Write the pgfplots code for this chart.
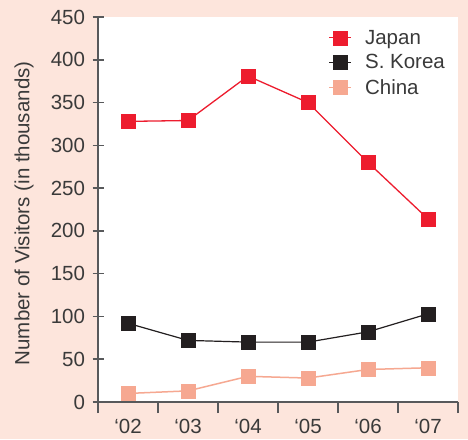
\documentclass[border=0pt]{standalone}
\usepackage{fontspec}
\setmainfont{Liberation Sans}
\usepackage{pgfplots}
\pgfplotsset{compat=1.18}
\definecolor{bgpink}{HTML}{FDE5DC}
\definecolor{jpred}{HTML}{ED1C2E}
\definecolor{krblack}{HTML}{231F20}
\definecolor{cnpink}{HTML}{F6A891}
\definecolor{axisgray}{HTML}{58595B}
\definecolor{txt}{HTML}{3A3A3A}
\newcommand{\chartfont}{\fontsize{20.5}{24}\selectfont}

\begin{document}
\begin{tikzpicture}[x=1pt,y=1pt]
\fill[bgpink] (0,0) rectangle (468,439);
\begin{axis}[
  at={(98pt,37pt)}, anchor=south west,
  scale only axis, width=360pt, height=385pt,
  xmin=0, xmax=6, ymin=0, ymax=450,
  axis lines*=left,
  axis line style={axisgray, line width=1.5pt, -},
  every tick/.style={axisgray, line width=1.5pt},
  axis background/.style={fill=white},
  major tick length=11pt,
  ytick={0,50,...,450},
  ytick align=center,
  yticklabel style={xshift=-4pt},
  xtick align=outside,
  xtick={0,1,...,6},
  xticklabels={},
  extra x ticks={0.5,1.5,2.5,3.5,4.5,5.5},
  extra x tick labels={‘02,‘03,‘04,‘05,‘06,‘07},
  extra x tick style={major tick length=0pt, xticklabel style={yshift=-14pt}},
  /pgf/number format/assume math mode=true,
  tick label style={font=\chartfont, text=txt},
  ylabel={Number of Visitors (in thousands)},
  ylabel style={at={(axis description cs:-0.2056,0.49)}, anchor=center, font=\chartfont, text=txt},
  legend style={draw=none, fill=none, at={(0.64,0.972)}, anchor=north west,
    font=\chartfont, text=txt, row sep=5pt, column sep=11pt, inner sep=0pt},
  legend cell align=left,
  legend image code/.code={\draw[mark repeat=2,mark phase=2] plot coordinates {(0pt,0pt) (11pt,0pt) (22pt,0pt)};},
  clip=false,
]
\addplot[jpred, line width=1.3pt, mark=square*, mark size=7pt, mark options={line width=0.5pt}]
  coordinates {(0.5,328) (1.5,329) (2.5,381) (3.5,350) (4.5,280) (5.5,214)};
\addplot[krblack, line width=1.2pt, mark=square*, mark size=7pt, mark options={line width=0.5pt}]
  coordinates {(0.5,92) (1.5,72) (2.5,70) (3.5,70) (4.5,82) (5.5,103)};
\addplot[cnpink, line width=1.5pt, mark=square*, mark size=7pt, mark options={line width=0.5pt}]
  coordinates {(0.5,10) (1.5,13) (2.5,30) (3.5,28) (4.5,38) (5.5,40)};
\legend{Japan, S. Korea, China}
\end{axis}
\pgfresetboundingbox
\useasboundingbox (0,0) rectangle (468,439);
\end{tikzpicture}
\end{document}
